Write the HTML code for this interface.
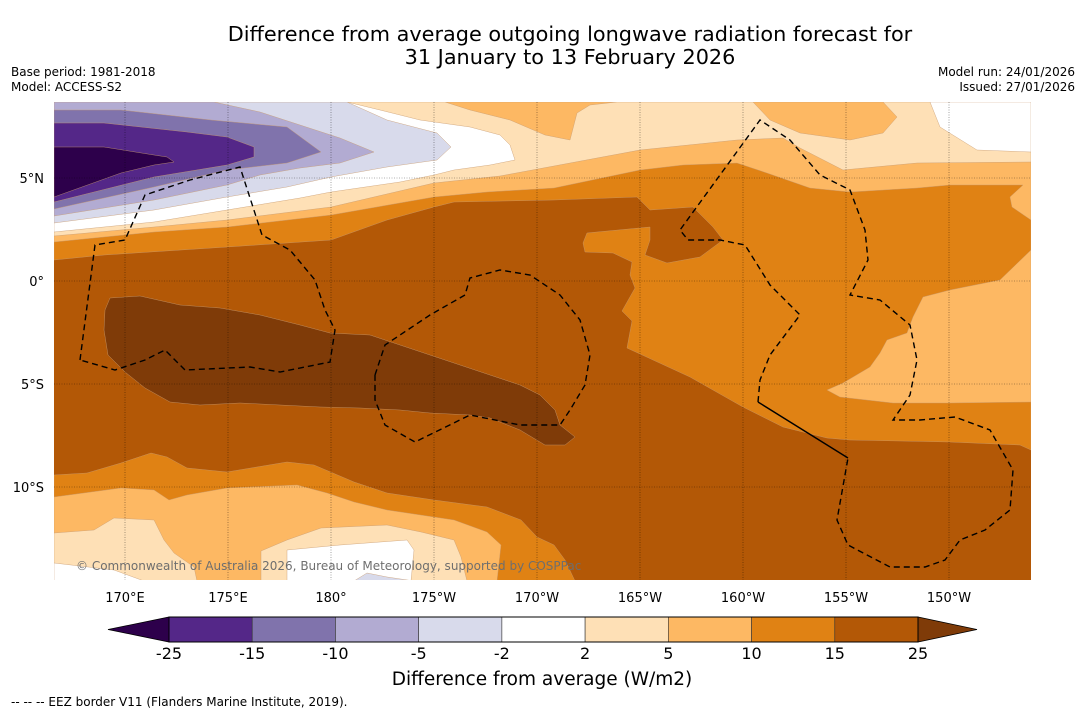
<!DOCTYPE html>
<html><head><meta charset="utf-8">
<style>
body{margin:0;background:#fff;width:1085px;height:713px;overflow:hidden;font-family:"DejaVu Sans","Liberation Sans",sans-serif;}
svg{display:block}
</style></head>
<body>
<svg id="chart" width="1085" height="713" viewBox="0 0 1085 713">
<text x="570" y="41" text-anchor="middle" font-size="20.8">Difference from average outgoing longwave radiation forecast for</text>
<text x="570" y="64" text-anchor="middle" font-size="20.8">31 January to 13 February 2026</text>
<text x="11" y="76" font-size="12">Base period: 1981-2018</text>
<text x="11" y="91" font-size="12">Model: ACCESS-S2</text>
<text x="1075" y="76" font-size="12" text-anchor="end">Model run: 24/01/2026</text>
<text x="1075" y="91" font-size="12" text-anchor="end">Issued: 27/01/2026</text>
<defs><clipPath id="mapclip"><rect x="54" y="102" width="977" height="478"/></clipPath></defs>
<g id="map" clip-path="url(#mapclip)"></g>
<g id="axes"></g>
<g id="cbar"></g>
<text x="542" y="685" text-anchor="middle" font-size="18.5">Difference from average (W/m2)</text>
<text x="11" y="706" font-size="12">--  --  -- EEZ border V11 (Flanders Marine Institute, 2019).</text>
</svg>
<script>
// axis data
const lonTicks=[170,175,180,185,190,195,200,205,210];
const lonLabels=["170°E","175°E","180°","175°W","170°W","165°W","160°W","155°W","150°W"];
const latTicks=[5,0,-5,-10];
const latLabels=["5°N","0°","5°S","10°S"];
const levels=["-25","-15","-10","-5","-2","2","5","10","15","25"];
const levelColors=["#542788","#8073ac","#b2abd2","#d8daeb","#ffffff","#fee0b6","#fdb863","#e08214","#b35806"];
const lowColor="#2d004b", highColor="#7f3b08";
// contour polygons (map pixel space), painted in order
const contourLayers=[
 {name:"band-10-15",c:"#e08214",p:[[54,102],[1031,102],[1031,450],[1020,445],[950,442],[850,440],[827,438],[783,427],[743,407],[690,377],[627,348],[632,321],[622,311],[635,288],[630,275],[632,262],[613,253],[585,252],[583,243],[587,233],[597,232],[650,227],[650,240],[645,255],[667,263],[700,257],[723,240],[713,227],[693,207],[650,210],[637,197],[554,200],[454,202],[434,207],[387,220],[331,240],[227,247],[104,255],[54,260]]},
 {name:"band-5-10-north",c:"#fdb863",p:[[54,102],[1031,102],[1031,220],[1012,207],[1010,197],[1023,185],[950,185],[917,188],[850,192],[810,188],[767,173],[737,163],[683,165],[640,170],[554,188],[487,192],[434,197],[331,215],[227,227],[154,232],[54,242]]},
 {name:"band-5-10-east",c:"#fdb863",p:[[1031,250],[1000,280],[950,290],[923,297],[913,317],[907,333],[887,340],[880,353],[870,367],[843,383],[827,390],[840,397],[893,403],[950,403],[1031,402]]},
 {name:"band-2-5-north",c:"#fee0b6",p:[[347,102],[445,102],[470,110],[510,120],[545,135],[570,140],[577,113],[590,105],[617,102],[753,102],[770,120],[800,133],[850,140],[883,133],[897,117],[883,102],[1031,102],[1031,162],[917,163],[843,170],[800,148],[783,138],[737,140],[640,150],[554,166],[500,176],[434,183],[331,207],[227,220],[154,227],[54,236],[54,102]]},
 {name:"band-white-north",c:"#ffffff",p:[[54,102],[347,102],[380,110],[420,120],[470,127],[500,135],[510,145],[515,160],[490,165],[454,170],[434,175],[400,182],[331,192],[300,198],[227,210],[154,222],[54,232]]},
 {name:"band-white-ne",c:"#ffffff",p:[[930,102],[940,127],[977,150],[1031,152],[1031,102]]},
 {name:"band-m2-m5",c:"#d8daeb",p:[[54,102],[347,102],[387,120],[437,133],[451,147],[437,160],[387,167],[331,177],[287,187],[227,197],[154,210],[54,223]]},
 {name:"band-m5-m10",c:"#b2abd2",p:[[54,102],[214,102],[260,112],[300,125],[340,138],[374,152],[340,163],[300,168],[260,175],[227,185],[154,200],[54,216]]},
 {name:"band-m10-m15",c:"#8073ac",p:[[54,110],[121,110],[211,120],[287,127],[321,152],[287,163],[227,170],[154,187],[54,209]]},
 {name:"band-m15-m25",c:"#542788",p:[[54,123],[104,123],[187,132],[227,137],[254,147],[254,157],[227,165],[154,177],[54,202]]},
 {name:"band-below-m25",c:"#2d004b",p:[[54,147],[104,147],[154,155],[167,157],[174,162],[154,165],[121,173],[54,197]]},
 {name:"band-above-25",c:"#7f3b08",p:[[110,298],[140,296],[180,305],[220,308],[260,315],[300,325],[330,333],[370,335],[400,345],[430,355],[460,365],[490,375],[520,385],[540,395],[555,410],[560,425],[575,437],[565,445],[545,445],[520,430],[490,418],[470,415],[430,413],[400,410],[360,408],[320,407],[280,405],[240,403],[200,405],[170,402],[145,388],[125,372],[108,355],[104,330],[105,310]]},
 {name:"band-10-15-south",c:"#e08214",p:[[54,475],[87,473],[121,463],[151,453],[167,457],[187,468],[227,472],[287,462],[314,465],[354,482],[387,493],[434,500],[487,507],[521,520],[537,537],[554,545],[565,560],[575,581],[54,581]]},
 {name:"band-5-10-south",c:"#fdb863",p:[[54,497],[121,488],[154,490],[169,500],[187,495],[227,488],[297,485],[327,493],[354,502],[387,510],[454,520],[487,532],[501,545],[497,581],[54,581]]},
 {name:"band-2-5-sw",c:"#fee0b6",p:[[54,533],[94,530],[114,518],[154,520],[164,540],[174,553],[194,567],[197,581],[54,581]]},
 {name:"band-2-5-south",c:"#fee0b6",p:[[261,551],[287,540],[321,528],[387,525],[421,532],[454,540],[461,557],[467,581],[261,581]]},
 {name:"band-white-sw",c:"#ffffff",p:[[54,563],[114,570],[144,581],[54,581]]},
 {name:"band-white-south",c:"#ffffff",p:[[287,550],[340,545],[407,540],[414,550],[411,581],[287,581]]},
 {name:"band-m2-south",c:"#d8daeb",p:[[354,581],[367,573],[387,577],[414,581]]}
];
const eezDashed=[
 [[80,360],[95,245],[125,240],[145,195],[190,180],[240,167],[262,235],[290,250],[315,280],[325,310],[335,330],[330,362],[280,372],[250,367],[185,370],[165,350],[145,360],[115,370],[80,360]],
 [[375,375],[385,345],[430,315],[465,295],[470,278],[500,270],[530,275],[560,295],[580,320],[590,355],[585,385],[570,410],[560,425],[520,425],[470,415],[415,442],[385,425],[375,400],[375,375]],
 [[758,402],[760,380],[770,355],[800,315],[770,285],[745,245],[720,240],[688,240],[680,230],[760,120],[790,140],[820,175],[850,190],[865,230],[868,260],[850,295],[880,300],[910,325],[917,360],[910,395],[893,420],[920,420],[955,417],[990,430],[1013,470],[1010,510],[985,530],[960,540],[945,560],[925,567],[890,567],[848,545],[837,520],[848,458]]
];
const eezSolid=[[[758,402],[848,458]]];

const NS="http://www.w3.org/2000/svg";
const X0=54,X1=1031,Y0=102,Y1=580;
function xOf(lon){return 125+(lon-170)*20.6;}
function yOf(lat){return 281-lat*20.6;}
function mk(tag,attrs,parent){const e=document.createElementNS(NS,tag);for(const k in attrs)e.setAttribute(k,attrs[k]);parent.appendChild(e);return e;}
const map=document.getElementById('map'), axes=document.getElementById('axes'), cbar=document.getElementById('cbar');
const bg=mk('rect',{x:X0,y:Y0,width:X1-X0,height:Y1-Y0,fill:"#b35806"},map);


contourLayers.forEach(L=>{
  const pg=mk('polygon',{points:L.p.map(q=>q.join(',')).join(' '),fill:L.c,stroke:"#c89a70","stroke-width":0.4},map);
  
  
});
eezDashed.forEach((l,i)=>{
  const pl=mk('polyline',{points:l.map(q=>q.join(',')).join(' '),fill:"none",stroke:"#000","stroke-width":1.4,"stroke-dasharray":"6,4"},map);
  
  
});
eezSolid.forEach(l=>{
  const pl=mk('polyline',{points:l.map(q=>q.join(',')).join(' '),fill:"none",stroke:"#000","stroke-width":1.4},map);
  
  
});
lonTicks.forEach((lon,i)=>{
  const x=xOf(lon);
  const g=mk('line',{x1:x,x2:x,y1:Y0,y2:Y1,stroke:"#000","stroke-width":0.6,"stroke-dasharray":"1,1.5","stroke-opacity":0.6},map);
  
  
  const t=mk('text',{x:x,y:602,"text-anchor":"middle","font-size":13},axes);
  t.textContent=lonLabels[i];
  
  
});
latTicks.forEach((lat,i)=>{
  const y=yOf(lat);
  const g=mk('line',{x1:X0,x2:X1,y1:y,y2:y,stroke:"#000","stroke-width":0.6,"stroke-dasharray":"1,1.5","stroke-opacity":0.6},map);
  
  
  const t=mk('text',{x:44,y:y+5,"text-anchor":"end","font-size":13},axes);
  t.textContent=latLabels[i];
  
  
});
const cp=mk('text',{x:76,y:570,"font-size":12,fill:"#6e6e6e"},map);
cp.textContent="© Commonwealth of Australia 2026, Bureau of Meteorology, supported by COSPPac";


// colorbar
const cbL=169,cbR=918,cbT=617,cbB=642,n=levelColors.length,w=(cbR-cbL)/n;
const lt=mk('polygon',{points:`${cbL},${cbT} ${cbL},${cbB} 108,${(cbT+cbB)/2}`,fill:lowColor,stroke:"#000","stroke-width":0.8},cbar);


const rt=mk('polygon',{points:`${cbR},${cbT} ${cbR},${cbB} 977,${(cbT+cbB)/2}`,fill:highColor,stroke:"#000","stroke-width":0.8},cbar);


levelColors.forEach((c,i)=>{
  const r=mk('rect',{x:cbL+i*w,y:cbT,width:w,height:cbB-cbT,fill:c,stroke:"#333","stroke-width":0.6},cbar);
  
  
});
mk('rect',{x:cbL,y:cbT,width:cbR-cbL,height:cbB-cbT,fill:"none",stroke:"#000","stroke-width":1},cbar);
levels.forEach((lv,i)=>{
  const t=mk('text',{x:cbL+i*w,y:659,"text-anchor":"middle","font-size":16},cbar);
  t.textContent=lv;
  
  
});
</script>
</body></html>
